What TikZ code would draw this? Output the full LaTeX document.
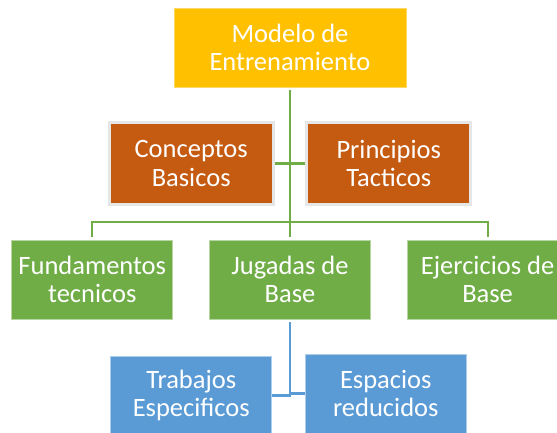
\documentclass[tikz,border=0pt]{standalone}
\usepackage{fontspec}
\setmainfont{Carlito}
\usetikzlibrary{positioning}

\definecolor{modelyellow}{HTML}{FFC000}
\definecolor{conceptorange}{HTML}{C55A11}
\definecolor{basegreen}{HTML}{70AD47}
\definecolor{workblue}{HTML}{5B9BD5}
\definecolor{framegray}{HTML}{E7E6E6}

\begin{document}
\begin{tikzpicture}
[
  x=1pt, y=-1pt,
  on grid,
  box/.style={rectangle, text=white, align=center, inner sep=0pt,
    font=\fontsize{26.5}{28.5}\selectfont, minimum width=161pt, minimum height=79pt},
  topbox/.style={box, fill=modelyellow, draw=modelyellow!60!white, line width=0.8pt, minimum width=232pt},
  orangebox/.style={box, fill=conceptorange, draw=framegray, line width=3pt, minimum width=164pt, minimum height=82pt},
  greenbox/.style={box, fill=basegreen, draw=basegreen!50!white, line width=0.8pt},
  bluebox/.style={box, fill=workblue, draw=workblue!50!white, line width=0.8pt},
  gline/.style={draw=basegreen, line width=2.2pt},
  bline/.style={draw=workblue, line width=2.2pt}
]
 \useasboundingbox (0,0) rectangle (557,432);

 \node[topbox] (modelo) at (290,47.5) {Modelo de\\Entrenamiento};
 \node[orangebox] (conceptos) [below left=116pt and 98.8pt of modelo] {Conceptos\\Basicos};
 \node[orangebox] (principios) [below right=116pt and 98.8pt of modelo] {Principios\\Tacticos};

 \node[greenbox] (jugadas) [below=232pt of modelo] {Jugadas de\\Base};
 \node[greenbox] (fundamentos) [left=197.7pt of jugadas] {Fundamentos\\tecnicos};
 \node[greenbox] (ejercicios) [right=197.6pt of jugadas] {Ejercicios de\\Base};

 \node[bluebox] (trabajos) [below left=116pt and 98.7pt of jugadas] {Trabajos\\Especificos};
 \node[bluebox] (espacios) [below right=114pt and 95.8pt of jugadas] {Espacios\\reducidos};

 % green trunk and bars
 \draw[gline, shorten <=3pt, shorten >=3pt] (modelo.south) -- (jugadas.north);
 \draw[gline] (conceptos.east) -- (principios.west);
 \draw[gline, shorten <=3pt, shorten >=3pt] (fundamentos.north) -- ++(0,-18) -| (ejercicios.north);

 % blue branch
 \draw[bline, shorten <=3pt] (jugadas.south) |- (trabajos.east);
 \draw[bline, shorten <=3pt] (jugadas.south) |- (espacios.west);
\end{tikzpicture}
\end{document}
